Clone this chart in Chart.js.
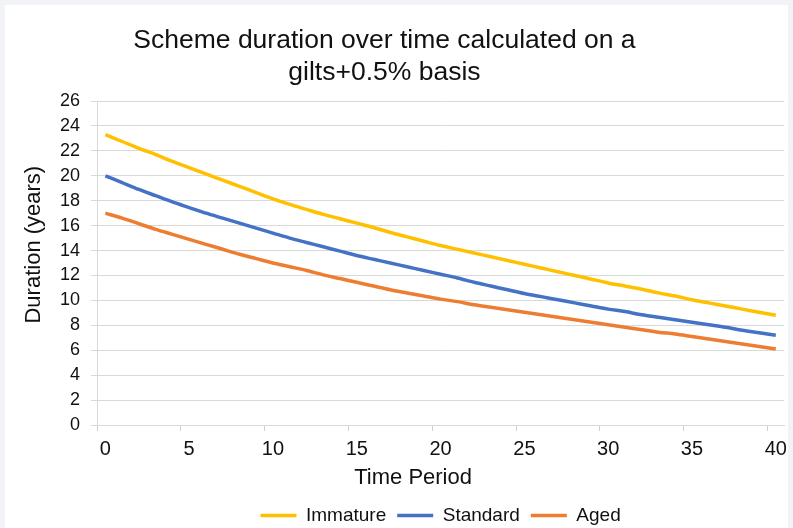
<!DOCTYPE html>
<html>
<head>
<meta charset="utf-8">
<title>Scheme duration over time</title>
<script src="https://cdn.jsdelivr.net/npm/chart.js@4.4.1/dist/chart.umd.min.js"></script>
<style>
  html, body { margin: 0; padding: 0; background: #f2f3f7; }
  #cadre { position: relative; width: 793px; height: 528px; }
</style>
</head>
<body>
<div id="cadre"><canvas id="graphique"></canvas></div>
<script>
// Time periods 0..40 (one category per year)
var periodes = ['0', '1', '2', '3', '4', '5', '6', '7', '8', '9', '10',
                '11', '12', '13', '14', '15', '16', '17', '18', '19', '20',
                '21', '22', '23', '24', '25', '26', '27', '28', '29', '30',
                '31', '32', '33', '34', '35', '36', '37', '38', '39', '40'];
var etiquettesX = ['0', '5', '10', '15', '20', '25', '30', '35', '40'];
var graduationsY = [0, 2, 4, 6, 8, 10, 12, 14, 16, 18, 20, 22, 24, 26];

// Duration (years) for each scheme profile
var immature = [23.3, 22.75, 22.2, 21.7, 21.15, 20.65, 20.15, 19.65, 19.15, 18.65,
                18.15, 17.7, 17.3, 16.9, 16.55, 16.2, 15.85, 15.45, 15.1, 14.75,
                14.4, 14.1, 13.8, 13.5, 13.2, 12.9, 12.6, 12.3, 12.0, 11.7,
                11.4, 11.15, 10.9, 10.6, 10.35, 10.05, 9.8, 9.55, 9.3, 9.05, 8.8];
var standard = [20.0, 19.45, 18.9, 18.4, 17.9, 17.45, 17.0, 16.6, 16.2, 15.8,
                15.4, 15.0, 14.65, 14.3, 13.95, 13.6, 13.3, 13.0, 12.7, 12.4,
                12.1, 11.8, 11.45, 11.15, 10.85, 10.55, 10.3, 10.05, 9.8, 9.55,
                9.3, 9.1, 8.85, 8.65, 8.45, 8.25, 8.05, 7.85, 7.6, 7.4, 7.2];
var aged = [17.0, 16.6, 16.15, 15.7, 15.3, 14.9, 14.5, 14.1, 13.7, 13.35,
            13.0, 12.7, 12.4, 12.05, 11.75, 11.45, 11.15, 10.85, 10.6, 10.35,
            10.1, 9.9, 9.65, 9.45, 9.25, 9.05, 8.85, 8.65, 8.45, 8.25,
            8.05, 7.85, 7.65, 7.45, 7.3, 7.1, 6.9, 6.7, 6.5, 6.3, 6.1];

// grey page with a white card behind the chart
var fond = {
    id: 'fond',
    beforeDraw: function(chart) {
        var ctx = chart.ctx;
        ctx.save();
        ctx.fillStyle = '#f2f3f7';
        ctx.fillRect(0, 0, chart.width, chart.height);
        ctx.fillStyle = '#ffffff';
        ctx.fillRect(5, 5, chart.width - 10, chart.height - 5);
        ctx.restore();
    }
};

document.addEventListener('DOMContentLoaded', function() {
    Chart.defaults.font.family = "'Liberation Sans', Arial, sans-serif";
    Chart.defaults.color = '#111111';

    var ctx = document.getElementById('graphique').getContext('2d');
    var graphique = new Chart(ctx, {
        type: 'line',
        data: {
            labels: periodes,
            datasets: [{
                label: 'Immature',
                data: immature,
                borderColor: '#FFC000',
                backgroundColor: '#FFC000',
                borderWidth: 3.5
            }, {
                label: 'Standard',
                data: standard,
                borderColor: '#4472C4',
                backgroundColor: '#4472C4',
                borderWidth: 3.5
            }, {
                label: 'Aged',
                data: aged,
                borderColor: '#ED7D31',
                backgroundColor: '#ED7D31',
                borderWidth: 3.5
            }]
        },
        options: {
            responsive: true,
            maintainAspectRatio: false,
            animation: false,
            layout: {
                padding: { left: 5, right: 7, top: 5, bottom: 0 }
            },
            elements: {
                point: { radius: 0 },
                line: { tension: 0.3 }
            },
            plugins: {
                title: {
                    display: true,
                    text: ['Scheme duration over time calculated on a   ', 'gilts+0.5% basis   '],
                    font: { size: 26.5, weight: 'normal', lineHeight: 32 / 26.5 },
                    color: '#111111',
                    padding: { top: 20, bottom: 12 }
                },
                legend: {
                    position: 'bottom',
                    fullSize: false,
                    maxHeight: 33,
                    labels: {
                        usePointStyle: true,
                        pointStyle: 'line',
                        pointStyleWidth: 36,
                        padding: 11,
                        font: { size: 19 },
                        color: '#111111'
                    }
                },
                tooltip: { enabled: false }
            },
            scales: {
                x: {
                    type: 'category',
                    offset: true,
                    afterFit: function(scale) { scale.height = 70; },
                    grid: {
                        offset: true,
                        drawOnChartArea: false,
                        drawTicks: true,
                        tickLength: 6,
                        color: function(c) {
                            return (c.index % 5 === 0 && c.index < periodes.length) ? '#d0d0d0' : 'rgba(0,0,0,0)';
                        }
                    },
                    border: { display: true, color: '#d9d9d9' },
                    ticks: {
                        autoSkip: false,
                        maxRotation: 0,
                        padding: 6,
                        font: { size: 20 },
                        color: '#111111',
                        callback: function(value) {
                            var lab = this.getLabelForValue(value);
                            return etiquettesX.indexOf(lab) >= 0 ? lab : '';
                        }
                    },
                    title: {
                        display: true,
                        text: 'Time Period         ',
                        font: { size: 22 },
                        color: '#111111',
                        padding: { top: 0, bottom: 3.5 }
                    }
                },
                y: {
                    min: graduationsY[0],
                    max: graduationsY[graduationsY.length - 1],
                    afterFit: function(scale) { scale.width = 92; },
                    afterBuildTicks: function(scale) {
                        scale.ticks = graduationsY.map(function(v) { return { value: v }; });
                    },
                    grid: {
                        color: '#d9d9d9',
                        tickLength: 6
                    },
                    border: { display: true, color: '#d9d9d9' },
                    ticks: {
                        padding: 11,
                        font: { size: 18 },
                        color: '#111111'
                    },
                    title: {
                        display: true,
                        text: '      Duration (years)',
                        font: { size: 22 },
                        color: '#111111',
                        padding: { top: 16, bottom: 0 }
                    }
                }
            }
        },
        plugins: [fond]
    });
});
</script>
</body>
</html>
